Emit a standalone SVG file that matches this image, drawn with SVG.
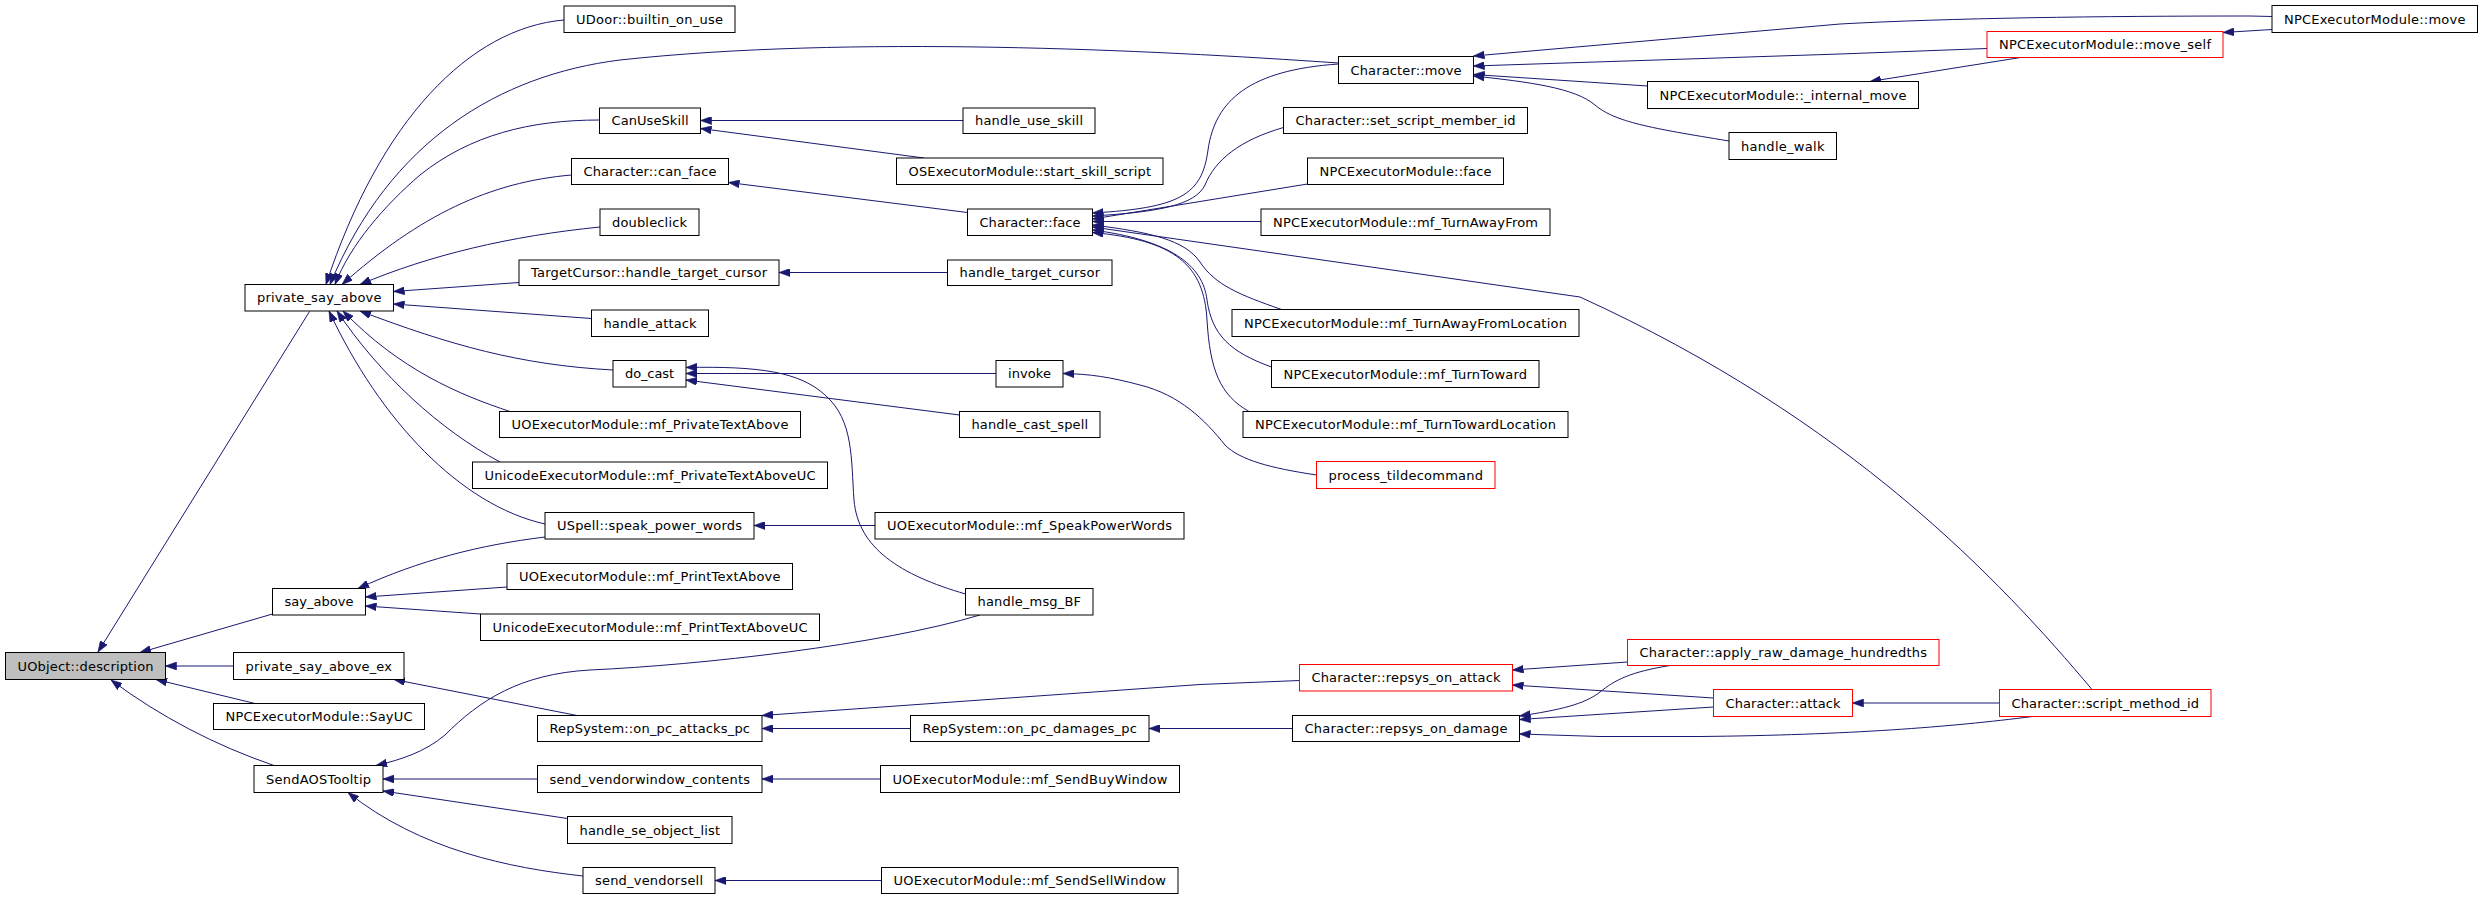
<svg xmlns="http://www.w3.org/2000/svg" width="2483" height="899" viewBox="0 0 2483 899">
<style>
.n rect{fill:#fff;stroke:#000;stroke-width:1}
.n.r rect{stroke:#f00}
.n.g rect{fill:#bfbfbf}
.n text{font-family:"DejaVu Sans","Liberation Sans",sans-serif;font-size:13px;text-anchor:middle;fill:#000}
.e path{fill:none;stroke:#191970;stroke-width:1;marker-end:url(#a)}
</style>
<defs>
<marker id="a" markerUnits="userSpaceOnUse" viewBox="0 0 11 8" markerWidth="11" markerHeight="8" refX="11" refY="4" orient="auto">
<path d="M0,0 L11,4 L0,8 z" fill="#191970" stroke="#191970" stroke-width="0.6"/>
</marker>
</defs>
<rect width="2483" height="899" fill="#fff"/>
<g id="edges" class="e">
<path d="M309.5,311.5 L98,652"/>
<path d="M272.5,614 L140,652.5"/>
<path d="M233.5,666 L165.5,666"/>
<path d="M255,703.5 L156,679.5"/>
<path d="M274,765.5 Q185,735 111,680"/>
<path d="M564,20 C470,28 380,120 326,284.5"/>
<path d="M1338.5,63 C1150,50 850,35 620,60 C500,75 390,140 330,284.5"/>
<path d="M599.5,120 C530,120 470,135 420,175 C385,205 350,245 335,284.5"/>
<path d="M571.5,175 C490,182 420,215 342,284.5"/>
<path d="M600,227 C510,236 430,255 360,284.5"/>
<path d="M519,282.5 L393.5,291.5"/>
<path d="M591.5,318.5 L393.5,304"/>
<path d="M613,370 C520,365 450,345 360,311"/>
<path d="M510,411.5 C460,395 400,370 343,311"/>
<path d="M500,462 C440,430 380,375 337,311"/>
<path d="M545,524 C460,505 380,420 329,311"/>
<path d="M545,537 C480,545 420,560 358,588.5"/>
<path d="M507,587 L365.5,597"/>
<path d="M480.5,614 L365.5,606"/>
<path d="M980,615 C880,645 700,665 590,670 C520,674 480,700 445,735 C425,752 400,760 376,765.5"/>
<path d="M537.5,779 L383,779"/>
<path d="M567.5,818.5 L383,791"/>
<path d="M583,876 C510,868 420,850 348,792.5"/>
<path d="M577,715.5 L394,679.5"/>
<path d="M963,120.5 L700.5,120.5"/>
<path d="M924,158 L700.5,128.5"/>
<path d="M967.5,212.5 L728.5,182.5"/>
<path d="M947.5,272.5 L779,272.5"/>
<path d="M996,373.5 L686,373.5"/>
<path d="M959.5,415 L686,380"/>
<path d="M965.5,594 C900,575 858,548 854,500 C851,460 854,420 825,395 C800,372 760,366 686,367.5"/>
<path d="M1316.5,475 C1270,468 1240,460 1225,445 C1205,420 1180,395 1140,385 C1110,377 1090,374 1063,373.5"/>
<path d="M875,525.5 L754,525.5"/>
<path d="M910.5,728.5 L762,728.5"/>
<path d="M1299.5,680.5 L1200,684.5 L762,715.5"/>
<path d="M1292.5,728.5 L1149,728.5"/>
<path d="M880.5,779 L762,779"/>
<path d="M881.5,880.5 L715,880.5"/>
<path d="M1338.5,64 C1250,70 1215,100 1208,150 C1202,195 1180,208 1092.5,213"/>
<path d="M1283.5,127.5 C1240,140 1215,160 1205,185 C1195,205 1160,212 1092.5,216"/>
<path d="M1307.5,184 L1092.5,219"/>
<path d="M1261,221.5 L1092.5,221.5"/>
<path d="M2092,689.5 C2000,580 1850,420 1580,297 L1092.5,227"/>
<path d="M1281.5,309.5 C1240,295 1215,285 1200,262 C1185,240 1150,232 1092.5,225"/>
<path d="M1271.5,367 C1230,352 1212,335 1207,300 C1203,265 1170,240 1092.5,230"/>
<path d="M1249,411.5 C1220,395 1210,370 1207,320 C1204,265 1175,240 1092.5,232.5"/>
<path d="M2272,16.5 L2250,16 C2100,16 1950,18 1840,24 L1473.5,56"/>
<path d="M1987,48.5 L1840,54 L1473.5,66"/>
<path d="M1647.5,86 L1473.5,74.5"/>
<path d="M1729,141 C1650,128 1615,122 1595,105 C1575,88 1530,82 1473.5,76"/>
<path d="M2272,29.5 L2223,32.5"/>
<path d="M2020.5,57.5 L1870,81.5"/>
<path d="M1627.5,662 L1512.5,670"/>
<path d="M1713.5,698 L1512.5,685"/>
<path d="M1670,665.5 C1630,672 1615,680 1600,692 C1585,704 1560,710 1519.5,716"/>
<path d="M1713.5,707 L1519.5,719.5"/>
<path d="M2032.5,716.5 C1950,727 1850,735 1700,736.5 L1600,736.5 L1519.5,734"/>
<path d="M1999.5,703 L1852.5,703"/>
</g>
<g id="n1" class="n g"><rect x="5.5" y="652.5" width="160" height="27"/><text x="85.5" y="670.5" textLength="136">UObject::description</text></g>
<g id="n2" class="n"><rect x="245" y="284.5" width="148.5" height="26.5"/><text x="319.25" y="302.25" textLength="124.5">private_say_above</text></g>
<g id="n3" class="n"><rect x="272.5" y="588.5" width="93" height="26.5"/><text x="319" y="606.25" textLength="69">say_above</text></g>
<g id="n4" class="n"><rect x="233.5" y="652.5" width="170.5" height="27"/><text x="318.75" y="670.5" textLength="146.5">private_say_above_ex</text></g>
<g id="n5" class="n"><rect x="213.5" y="703.5" width="211" height="26"/><text x="319" y="721" textLength="187">NPCExecutorModule::SayUC</text></g>
<g id="n6" class="n"><rect x="254" y="765.5" width="129" height="27"/><text x="318.5" y="783.5" textLength="105">SendAOSTooltip</text></g>
<g id="n7" class="n"><rect x="564" y="6" width="171" height="26.5"/><text x="649.5" y="23.75" textLength="147">UDoor::builtin_on_use</text></g>
<g id="n8" class="n"><rect x="599.5" y="108" width="101" height="25.5"/><text x="650" y="125.25" textLength="77">CanUseSkill</text></g>
<g id="n9" class="n"><rect x="571.5" y="158.5" width="157" height="26"/><text x="650" y="176" textLength="133">Character::can_face</text></g>
<g id="n10" class="n"><rect x="600" y="209" width="99" height="26.5"/><text x="649.5" y="226.75" textLength="75">doubleclick</text></g>
<g id="n11" class="n"><rect x="519" y="260" width="260" height="25.5"/><text x="649" y="277.25" textLength="236">TargetCursor::handle_target_cursor</text></g>
<g id="n12" class="n"><rect x="591.5" y="310" width="117" height="26.5"/><text x="650" y="327.75" textLength="93">handle_attack</text></g>
<g id="n13" class="n"><rect x="613" y="360.5" width="73" height="26.5"/><text x="649.5" y="378.25" textLength="49">do_cast</text></g>
<g id="n14" class="n"><rect x="499.5" y="411.5" width="301" height="26"/><text x="650" y="429" textLength="277">UOExecutorModule::mf_PrivateTextAbove</text></g>
<g id="n15" class="n"><rect x="472.5" y="462" width="355" height="26.5"/><text x="650" y="479.75" textLength="331">UnicodeExecutorModule::mf_PrivateTextAboveUC</text></g>
<g id="n16" class="n"><rect x="545" y="512.5" width="209" height="26.5"/><text x="649.5" y="530.25" textLength="185">USpell::speak_power_words</text></g>
<g id="n17" class="n"><rect x="507" y="563.5" width="285.5" height="26"/><text x="649.75" y="581" textLength="261.5">UOExecutorModule::mf_PrintTextAbove</text></g>
<g id="n18" class="n"><rect x="480.5" y="614" width="339" height="26.5"/><text x="650" y="631.75" textLength="315">UnicodeExecutorModule::mf_PrintTextAboveUC</text></g>
<g id="n19" class="n"><rect x="537.5" y="715.5" width="224.5" height="26"/><text x="649.75" y="733" textLength="200.5">RepSystem::on_pc_attacks_pc</text></g>
<g id="n20" class="n"><rect x="537.5" y="765.5" width="224.5" height="27"/><text x="649.75" y="783.5" textLength="200.5">send_vendorwindow_contents</text></g>
<g id="n21" class="n"><rect x="567.5" y="816.5" width="164.5" height="27"/><text x="649.75" y="834.5" textLength="140.5">handle_se_object_list</text></g>
<g id="n22" class="n"><rect x="583" y="867.5" width="132" height="26"/><text x="649" y="885" textLength="108">send_vendorsell</text></g>
<g id="n23" class="n"><rect x="963" y="108" width="132" height="25.5"/><text x="1029" y="125.25" textLength="108">handle_use_skill</text></g>
<g id="n24" class="n"><rect x="896.5" y="158" width="266.5" height="26.5"/><text x="1029.75" y="175.75" textLength="242.5">OSExecutorModule::start_skill_script</text></g>
<g id="n25" class="n"><rect x="967.5" y="209" width="125" height="26.5"/><text x="1030" y="226.75" textLength="101">Character::face</text></g>
<g id="n26" class="n"><rect x="947.5" y="260" width="164.5" height="25.5"/><text x="1029.75" y="277.25" textLength="140.5">handle_target_cursor</text></g>
<g id="n27" class="n"><rect x="996" y="360.5" width="67" height="26.5"/><text x="1029.5" y="378.25" textLength="43">invoke</text></g>
<g id="n28" class="n"><rect x="959.5" y="411.5" width="140.5" height="26"/><text x="1029.75" y="429" textLength="116.5">handle_cast_spell</text></g>
<g id="n29" class="n"><rect x="875" y="512.5" width="309" height="26.5"/><text x="1029.5" y="530.25" textLength="285">UOExecutorModule::mf_SpeakPowerWords</text></g>
<g id="n30" class="n"><rect x="965.5" y="588.5" width="127.5" height="26.5"/><text x="1029.25" y="606.25" textLength="103.5">handle_msg_BF</text></g>
<g id="n31" class="n"><rect x="910.5" y="715.5" width="238.5" height="26"/><text x="1029.75" y="733" textLength="214.5">RepSystem::on_pc_damages_pc</text></g>
<g id="n32" class="n"><rect x="880.5" y="765.5" width="299" height="27"/><text x="1030" y="783.5" textLength="275">UOExecutorModule::mf_SendBuyWindow</text></g>
<g id="n33" class="n"><rect x="881.5" y="867.5" width="296.5" height="26"/><text x="1029.75" y="885" textLength="272.5">UOExecutorModule::mf_SendSellWindow</text></g>
<g id="n34" class="n"><rect x="1338.5" y="56.5" width="135" height="27"/><text x="1406" y="74.5" textLength="111">Character::move</text></g>
<g id="n35" class="n"><rect x="1283.5" y="107.5" width="244" height="26"/><text x="1405.5" y="125" textLength="220">Character::set_script_member_id</text></g>
<g id="n36" class="n"><rect x="1307.5" y="158" width="196" height="26.5"/><text x="1405.5" y="175.75" textLength="172">NPCExecutorModule::face</text></g>
<g id="n37" class="n"><rect x="1261" y="209" width="289" height="26.5"/><text x="1405.5" y="226.75" textLength="265">NPCExecutorModule::mf_TurnAwayFrom</text></g>
<g id="n38" class="n"><rect x="1232" y="309.5" width="347" height="27"/><text x="1405.5" y="327.5" textLength="323">NPCExecutorModule::mf_TurnAwayFromLocation</text></g>
<g id="n39" class="n"><rect x="1271.5" y="360.5" width="267.5" height="27"/><text x="1405.25" y="378.5" textLength="243.5">NPCExecutorModule::mf_TurnToward</text></g>
<g id="n40" class="n"><rect x="1243" y="411.5" width="325" height="26"/><text x="1405.5" y="429" textLength="301">NPCExecutorModule::mf_TurnTowardLocation</text></g>
<g id="n41" class="n r"><rect x="1316.5" y="461.5" width="178.5" height="27"/><text x="1405.75" y="479.5" textLength="154.5">process_tildecommand</text></g>
<g id="n42" class="n r"><rect x="1299.5" y="664.5" width="213" height="26.5"/><text x="1406" y="682.25" textLength="189">Character::repsys_on_attack</text></g>
<g id="n43" class="n"><rect x="1292.5" y="715.5" width="227" height="26"/><text x="1406" y="733" textLength="203">Character::repsys_on_damage</text></g>
<g id="n44" class="n"><rect x="1647.5" y="81.5" width="271" height="27"/><text x="1783" y="99.5" textLength="247">NPCExecutorModule::_internal_move</text></g>
<g id="n45" class="n"><rect x="1729" y="132.5" width="107.5" height="27"/><text x="1782.75" y="150.5" textLength="83.5">handle_walk</text></g>
<g id="n46" class="n r"><rect x="1627.5" y="639.5" width="311.5" height="26"/><text x="1783.25" y="657" textLength="287.5">Character::apply_raw_damage_hundredths</text></g>
<g id="n47" class="n r"><rect x="1713.5" y="689.5" width="139" height="27"/><text x="1783" y="707.5" textLength="115">Character::attack</text></g>
<g id="n48" class="n r"><rect x="1987" y="31.5" width="236" height="26"/><text x="2105" y="49" textLength="212">NPCExecutorModule::move_self</text></g>
<g id="n49" class="n r"><rect x="1999.5" y="689.5" width="211.5" height="27"/><text x="2105.25" y="707.5" textLength="187.5">Character::script_method_id</text></g>
<g id="n50" class="n"><rect x="2272" y="5.5" width="205.5" height="27"/><text x="2374.75" y="23.5" textLength="181.5">NPCExecutorModule::move</text></g>
</svg>
